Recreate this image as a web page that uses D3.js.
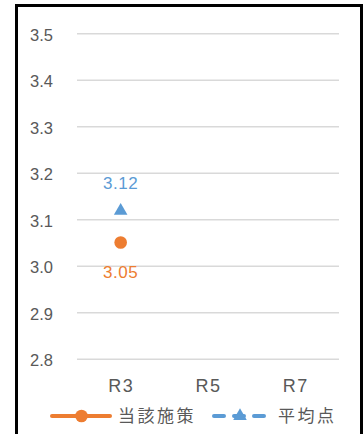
<!DOCTYPE html>
<html><head><meta charset="utf-8">
<script src="https://cdn.jsdelivr.net/npm/d3@7"></script>
<style>
html,body{margin:0;padding:0;background:#fff;}
svg{display:block;}
</style></head>
<body>
<script>
const categories = ["R3", "R5", "R7"];
const seriesNames = ["当該施策", "平均点"];
const seriesA = [3.05, null, null];   // 当該施策
const seriesB = [3.12, null, null];   // 平均点
const yTicks = [2.8, 2.9, 3.0, 3.1, 3.2, 3.3, 3.4, 3.5];

const W = 363, H = 434;
const orange = "#ED7D31", blue = "#5B9BD5";
const numFont = "'Liberation Sans', Arial, sans-serif";
const jpFont = "'Noto Sans CJK JP', sans-serif";

const svg = d3.select("body").append("svg").attr("width", W).attr("height", H);

// frame
svg.append("rect").attr("x", 16.5).attr("y", 5.5).attr("width", 345).attr("height", 440)
  .attr("fill", "#fff").attr("stroke", "#000").attr("stroke-width", 3);

const x = d3.scalePoint().domain(categories).range([77, 339]).padding(0.5);
const y = d3.scaleLinear().domain([2.8, 3.5]).range([358.7, 33.2]);

// gridlines + y labels
const yAxis = d3.axisLeft(y).tickValues(yTicks).tickFormat(d3.format(".1f"))
  .tickSize(-(339 - 77)).tickPadding(24);
const gy = svg.append("g").attr("transform", "translate(77,0)").call(yAxis);
gy.select(".domain").remove();
gy.selectAll(".tick line").attr("stroke", "#D9D9D9").attr("stroke-width", 1.5);
gy.selectAll(".tick text").attr("fill", "#595959").style("font-family", numFont)
  .style("font-size", "16.5px").attr("dy", "0.42em");

// x axis labels
const xAxis = d3.axisBottom(x).tickSize(0).tickPadding(0);
const gx = svg.append("g").attr("transform", "translate(0,380)").call(xAxis);
gx.select(".domain").remove();
gx.selectAll(".tick text").attr("fill", "#595959").style("font-family", numFont)
  .style("font-size", "18px").style("letter-spacing", "1.5px").attr("dy", "0.66em");

// lines (defined points only)
const line = d3.line().defined(d => d.v != null).x(d => x(d.c)).y(d => y(d.v));
const dataA = categories.map((c, i) => ({c, v: seriesA[i]}));
const dataB = categories.map((c, i) => ({c, v: seriesB[i]}));
svg.append("path").datum(dataA).attr("d", line).attr("fill", "none")
  .attr("stroke", orange).attr("stroke-width", 4);
svg.append("path").datum(dataB).attr("d", line).attr("fill", "none")
  .attr("stroke", blue).attr("stroke-width", 4).attr("stroke-dasharray", "10,10");

// markers
const tri = d3.symbol().type(d3.symbolTriangle).size(80);
svg.selectAll(".ma").data(dataA.filter(d => d.v != null)).enter().append("circle")
  .attr("cx", d => x(d.c)).attr("cy", d => y(d.v)).attr("r", 6.3).attr("fill", orange);
svg.selectAll(".mb").data(dataB.filter(d => d.v != null)).enter().append("path")
  .attr("d", tri).attr("transform", d => `translate(${x(d.c)},${y(d.v) + 1})`).attr("fill", blue);

// data labels
svg.selectAll(".la").data(dataA.filter(d => d.v != null)).enter().append("text")
  .attr("x", d => x(d.c)).attr("y", d => y(d.v) + 35.5).attr("text-anchor", "middle")
  .attr("fill", orange).style("font-family", numFont).style("font-size", "17px")
  .style("letter-spacing", "0.5px").text(d => d.v.toFixed(2));
svg.selectAll(".lb").data(dataB.filter(d => d.v != null)).enter().append("text")
  .attr("x", d => x(d.c)).attr("y", d => y(d.v) - 21).attr("text-anchor", "middle")
  .attr("fill", blue).style("font-family", numFont).style("font-size", "17px")
  .style("letter-spacing", "0.5px").text(d => d.v.toFixed(2));

// legend
const ly = 416;
const lg = svg.append("g");
lg.append("line").attr("x1", 52).attr("x2", 110).attr("y1", ly).attr("y2", ly)
  .attr("stroke", orange).attr("stroke-width", 4).attr("stroke-linecap", "round");
lg.append("circle").attr("cx", 81.5).attr("cy", ly).attr("r", 6.3).attr("fill", orange);
lg.append("text").attr("x", 118).attr("y", ly).attr("dy", "0.36em").attr("fill", "#595959")
  .style("font-family", jpFont).style("font-size", "17px").style("letter-spacing", "2.5px")
  .text(seriesNames[0]);
lg.append("line").attr("x1", 214).attr("x2", 266).attr("y1", ly).attr("y2", ly)
  .attr("stroke", blue).attr("stroke-width", 4).attr("stroke-linecap", "round")
  .attr("stroke-dasharray", "10,10");
lg.append("path").attr("d", tri).attr("transform", `translate(240,${ly})`).attr("fill", blue);
lg.append("text").attr("x", 278).attr("y", ly).attr("dy", "0.36em").attr("fill", "#595959")
  .style("font-family", jpFont).style("font-size", "17px").style("letter-spacing", "2.5px")
  .text(seriesNames[1]);
</script>
</body></html>
